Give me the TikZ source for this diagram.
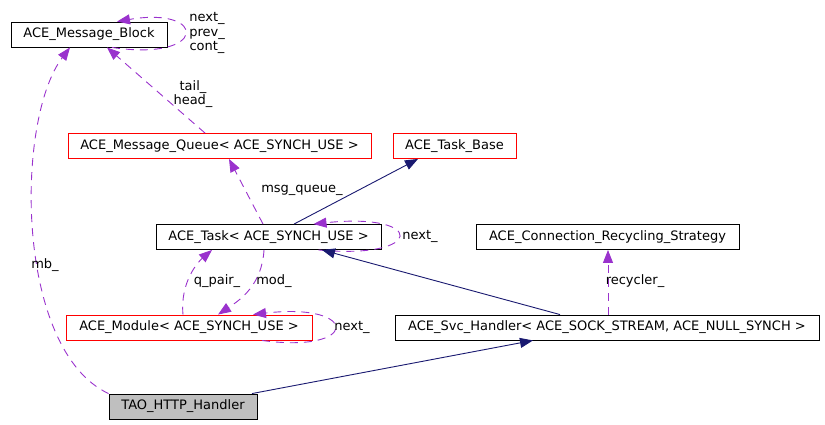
\documentclass[tikz,border=0pt]{standalone}
\usepackage{fontspec}
\setmainfont{DejaVu Sans}
\usetikzlibrary{arrows.meta}
\definecolor{orchid}{HTML}{9A32CD}
\definecolor{midnight}{HTML}{191970}
\definecolor{boxgray}{HTML}{BFBFBF}
\tikzstyle{cls}=[rectangle,minimum height=25,inner xsep=6,text centered,draw=black,line width=0.9pt,font=\fontsize{13}{15}\selectfont]
\tikzstyle{partial}=[cls,draw=red]
\tikzstyle{lbl}=[align=center,inner sep=0pt,font=\fontsize{13}{14.5}\selectfont]
\tikzstyle{uses}=[draw=orchid,line width=0.9pt,dash pattern=on 8pt off 6pt,-{Triangle[length=13pt,width=10pt]}]
\tikzstyle{inherit}=[draw=midnight,line width=0.9pt,-{Triangle[length=13pt,width=10pt]}]

\begin{document}
\begin{tikzpicture}[x=1pt,y=-1pt]
            \useasboundingbox (0,0) rectangle (825,424);
            \node (block)[cls,minimum width=156] at (89,34.5) {ACE\_Message\_Block};
            \node (queue)[partial,minimum width=303] at (219.5,146) {ACE\_Message\_Queue< ACE\_SYNCH\_USE >};
            \node (taskbase)[partial,minimum width=123] at (454.5,146) {ACE\_Task\_Base};
            \node (task)[cls,minimum width=225] at (268.5,237) {ACE\_Task< ACE\_SYNCH\_USE >};
            \node (recycling)[cls,minimum width=263] at (607.5,237) {ACE\_Connection\_Recycling\_Strategy};
            \node (module)[partial,minimum width=246] at (189,327.5) {ACE\_Module< ACE\_SYNCH\_USE >};
            \node (svc)[cls,minimum width=424] at (607,327.5) {ACE\_Svc\_Handler< ACE\_SOCK\_STREAM, ACE\_NULL\_SYNCH >};
            \node (http)[cls,fill=boxgray,minimum width=148] at (183,406.5) {TAO\_HTTP\_Handler};
            % edges
            \draw [uses] ([xshift=23]block.south) .. controls (208,62) and (208,6) .. ([xshift=28]block.north);
            \node (nextblock)[lbl] at (207,33) {next\_\\prev\_\\cont\_};
            \draw [uses] ([xshift=-14.5]queue.north) -- ([xshift=18]block.south);
            \node (tailhead)[lbl] at (193,94) {tail\_\\head\_};
            \draw [uses] (http.north west) .. controls (15,350) and (15,120) .. ([xshift=-19]block.south);
            \node (mb)[lbl] at (45,265) {mb\_};
            \draw [uses] ([xshift=-5.5]task.north) -- ([xshift=9.5]queue.south);
            \node (msgqueue)[lbl] at (302,190) {msg\_queue\_};
            \draw [inherit] ([xshift=25.5]task.north) -- ([xshift=-36.5]taskbase.south);
            \draw [uses] ([xshift=50]task.south) .. controls (426,260) and (426,212) .. ([xshift=45]task.north);
            \node (nexttask)[lbl] at (420,236) {next\_};
            \draw [inherit] ([xshift=-47]svc.north) -- ([xshift=53.5]task.south);
            \draw [uses] ([xshift=1]svc.north) -- ([xshift=0.5]recycling.south);
            \node (recycler)[lbl] at (635,281) {recycler\_};
            \draw [inherit] ([xshift=69]http.north) -- ([xshift=-74]svc.south);
            \draw [uses] ([xshift=-6]module.north) .. controls (180,282) and (198,262) .. ([xshift=-56.5]task.south);
            \node (qpair)[lbl] at (217,281) {q\_pair\_};
            \draw [uses] ([xshift=-4.5]task.south) .. controls (262,285) and (240,300) .. ([xshift=29]module.north);
            \node (mod)[lbl] at (274,281) {mod\_};
            \draw [uses] ([xshift=73]module.south) .. controls (360,354) and (360,302) .. ([xshift=64]module.north);
            \node (nextmodule)[lbl] at (352,327) {next\_};
        \end{tikzpicture}
\end{document}
